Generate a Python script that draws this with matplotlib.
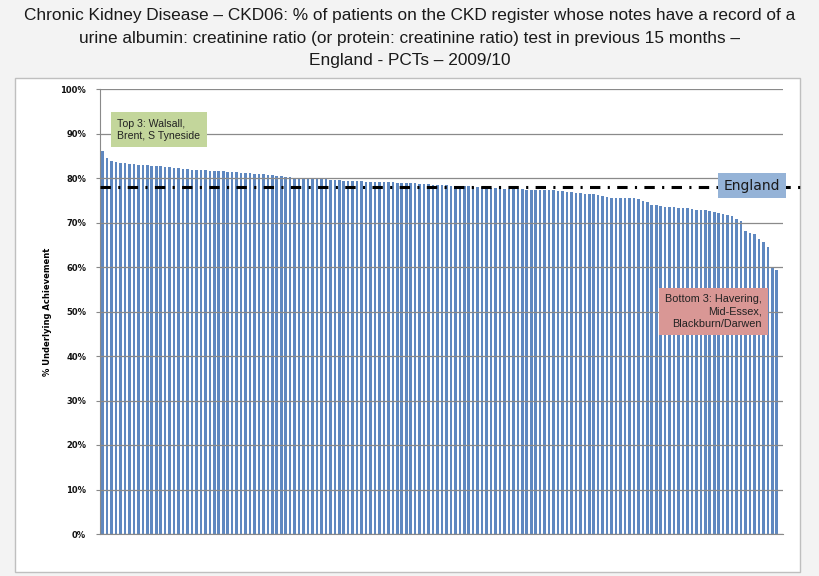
import matplotlib
matplotlib.use('Agg')
import matplotlib.pyplot as plt
import numpy as np

# Underlying achievement (%) per PCT, sorted high to low (152 PCTs)
values = [
    86.0, 84.4, 83.9, 83.5, 83.4, 83.3, 83.2, 83.1, 83.0, 83.0,
    82.9, 82.8, 82.7, 82.6, 82.5, 82.4, 82.3, 82.2, 82.1, 82.0,
    81.9, 81.8, 81.8, 81.7, 81.6, 81.6, 81.5, 81.5, 81.4, 81.4,
    81.3, 81.2, 81.2, 81.1, 81.0, 80.9, 80.8, 80.7, 80.6, 80.5,
    80.4, 80.3, 80.2,
    80.1, 80.0, 80.0, 79.9, 79.8, 79.8, 79.7, 79.7, 79.6,
    79.5, 79.5, 79.4, 79.4, 79.3, 79.3, 79.3, 79.2, 79.2, 79.1, 79.1,
    79.0, 79.0, 79.0, 78.9, 78.9, 78.8, 78.8, 78.8, 78.7, 78.7, 78.6,
    78.5, 78.5, 78.4, 78.4, 78.3, 78.3, 78.2, 78.2, 78.1, 78.0, 78.0, 77.9, 77.9, 77.8,
    77.7, 77.7, 77.6, 77.6, 77.6, 77.5, 77.5, 77.4, 77.4, 77.4, 77.3, 77.3, 77.2, 77.2,
    77.1, 77.0, 76.9, 76.8, 76.7, 76.6, 76.5, 76.4, 76.3, 76.1, 75.9, 75.7,
    75.6, 75.6, 75.5, 75.5, 75.5, 75.4, 75.2,
    74.8, 74.6,
    74.0, 73.9, 73.8,
    73.5, 73.4, 73.4, 73.3, 73.3, 73.2, 73.1,
    72.9, 72.8, 72.7,
    72.5, 72.4, 72.2,
    71.9, 71.7, 71.5,
    70.8, 70.4,
    68.1, 67.7, 67.4, 66.3, 65.7, 64.5,
    59.9, 59.4,
]
england = 78.0
yticks = [0, 10, 20, 30, 40, 50, 60, 70, 80, 90, 100]

title = ("Chronic Kidney Disease \u2013 CKD06: % of patients on the CKD register whose notes have a record of a\n"
         "urine albumin: creatinine ratio (or protein: creatinine ratio) test in previous 15 months \u2013\n"
         "England - PCTs \u2013 2009/10")
top_note = "Top 3: Walsall,\nBrent, S Tyneside"
bottom_note = "Bottom 3: Havering,\nMid-Essex,\nBlackburn/Darwen"

fig = plt.figure(figsize=(8.2, 5.76), dpi=100, facecolor='#f3f3f3')

# white chart frame behind the axes
frame = plt.Rectangle((15 / 820, 4 / 576), 785 / 820, 494 / 576, transform=fig.transFigure,
                      facecolor='white', edgecolor='#bfbfbf', linewidth=1, zorder=-5)
fig.patches.append(frame)

fig.text(0.5, 0.986, title, ha='center', va='top', fontsize=12.4, color='#1a1a1a',
         family=['Liberation Sans', 'DejaVu Sans'], linespacing=1.62)

ax = fig.add_axes([100 / 820, 1 - 534 / 576, 683 / 820, 445 / 576], zorder=2)
ax.set_facecolor('white')

x = np.arange(len(values))
ax.bar(x, values, width=0.58, color='#5f88c0', zorder=2)

ax.set_xlim(-0.6, len(values) + 0.4)
ax.set_ylim(0, 100)
ax.set_yticks(yticks)
ax.set_yticklabels([f"{t}%" for t in yticks], fontsize=6, fontweight='bold', color='#111111')
ax.set_xticks([])
ax.yaxis.grid(True, color='#8a8a8a', linewidth=0.9, zorder=3)
ax.set_axisbelow(False)
ax.tick_params(axis='y', length=3, color='#888888', pad=7)
for side in ['top', 'right']:
    ax.spines[side].set_visible(False)
ax.spines['left'].set_color('#8a8a8a')
ax.spines['bottom'].set_color('#8a8a8a')
ax.set_ylabel('% Underlying Achievement', fontsize=6, fontweight='bold', labelpad=6)

# England average line, runs past the plot area
x_end = len(values) + 4.2
ax.plot([-0.6, x_end], [england, england], color='black', linewidth=2.2,
        dashes=(3.4, 2.4, 0.7, 2.4), clip_on=False, zorder=4)

ax.text(145.5, england + 0.3, 'England', ha='center', va='center', fontsize=10, color='#1a1a1a',
        bbox=dict(boxstyle='square,pad=0.42', facecolor='#95b3d7', edgecolor='none'), zorder=5)

ax.text(3.3, 90.8, top_note, ha='left', va='center', fontsize=7.6, color='#222222',
        family='Liberation Sans', linespacing=1.3,
        bbox=dict(boxstyle='square,pad=0.6', facecolor='#c3d69b', edgecolor='none'), zorder=5)

ax.text(147.6, 50.0, bottom_note, ha='right', va='center', fontsize=7.8, color='#222222',
        family='Liberation Sans', linespacing=1.3, multialignment='right',
        bbox=dict(boxstyle='square,pad=0.55', facecolor='#d99795', edgecolor='none'), zorder=5)

fig.savefig('out.png', dpi=100, facecolor=fig.get_facecolor())
